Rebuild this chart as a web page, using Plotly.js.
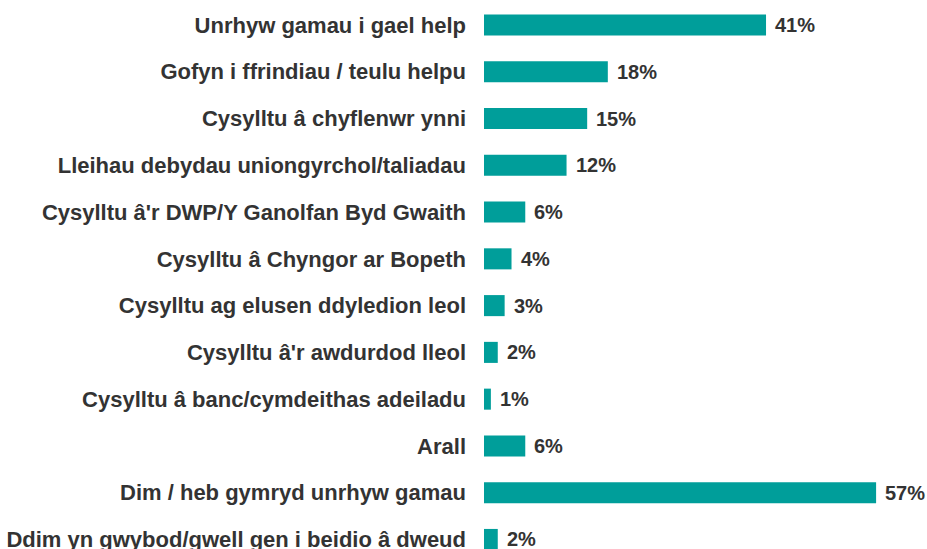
<!DOCTYPE html>
<html><head><meta charset="utf-8">
<script src="https://cdn.plot.ly/plotly-3.0.1.min.js"></script>
<style>html,body{margin:0;padding:0;background:#fff}</style>
</head><body>
<div id="chart" style="width:927px;height:549px"></div>
<script>
const categories = [
  "Unrhyw gamau i gael help",
  "Gofyn i ffrindiau / teulu helpu",
  "Cysylltu â chyflenwr ynni",
  "Lleihau debydau uniongyrchol/taliadau",
  "Cysylltu â'r DWP/Y Ganolfan Byd Gwaith",
  "Cysylltu â Chyngor ar Bopeth",
  "Cysylltu ag elusen ddyledion leol",
  "Cysylltu â'r awdurdod lleol",
  "Cysylltu â banc/cymdeithas adeiladu",
  "Arall",
  "Dim / heb gymryd unrhyw gamau",
  "Ddim yn gwybod/gwell gen i beidio â dweud"
];
const values = [41, 18, 15, 12, 6, 4, 3, 2, 1, 6, 57, 2];
const valueLabels = values.map(v => v + "%");

const trace = {
  type: "bar",
  orientation: "h",
  x: values,
  y: categories,
  marker: {color: "#009e9a"},
  hoverinfo: "none"
};

const annotations = values.map((v, i) => ({
  x: v, y: categories[i], xref: "x", yref: "y",
  text: valueLabels[i], showarrow: false,
  xanchor: "left", yanchor: "middle", xshift: 7,
  font: {family: "Liberation Sans, Arial, sans-serif", size: 20, color: "#333333", weight: "bold"}
}));

const layout = {
  width: 927, height: 549,
  margin: {l: 484, r: 0, t: 0, b: 0},
  paper_bgcolor: "#ffffff", plot_bgcolor: "#ffffff",
  showlegend: false,
  bargap: 0.55,
  xaxis: {range: [0, 64.4], showgrid: false, zeroline: false, showticklabels: false, showline: false, fixedrange: true},
  yaxis: {
    type: "category",
    range: [11.204, -0.5345],
    showgrid: false, zeroline: false, showline: false, ticks: "",
    ticklabelstandoff: 17,
    tickfont: {family: "Liberation Sans, Arial, sans-serif", size: 22, color: "#333333", weight: "bold"}
  },
  annotations: annotations
};

Plotly.newPlot("chart", [trace], layout, {displayModeBar: false, staticPlot: true});
</script>
</body></html>
